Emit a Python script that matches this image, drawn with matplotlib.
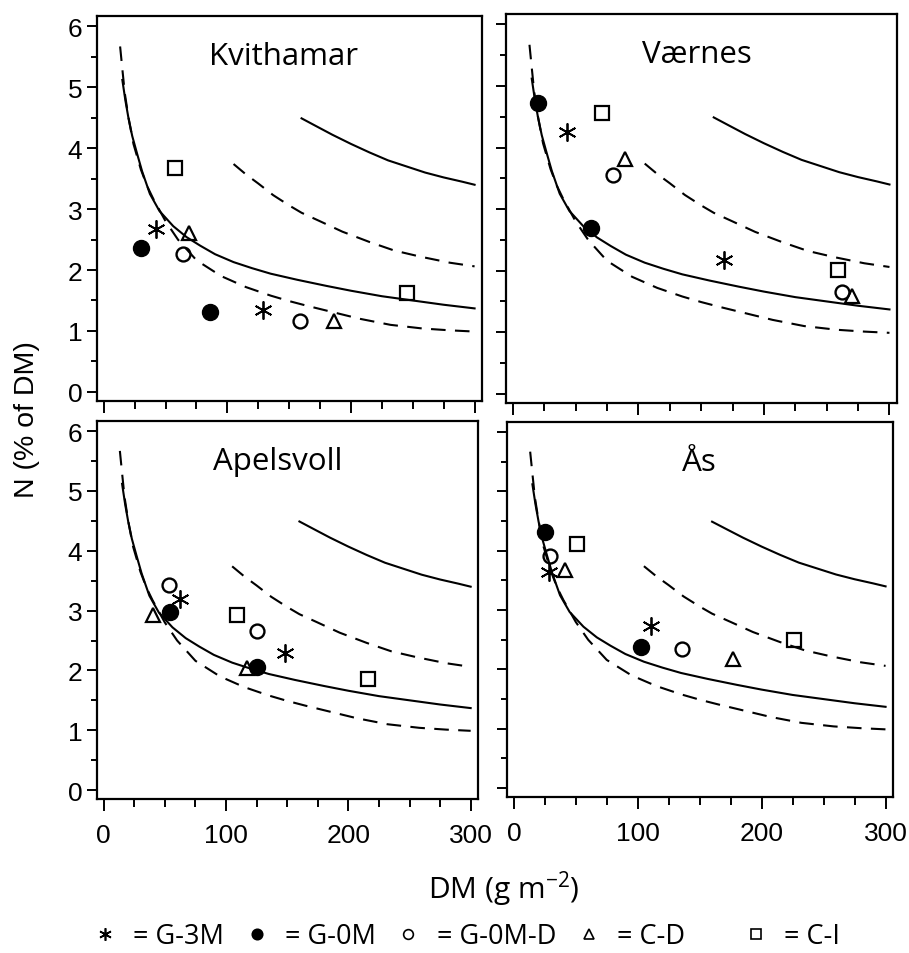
import matplotlib
matplotlib.use("Agg")
import matplotlib.pyplot as plt
from matplotlib.lines import Line2D
from matplotlib.ticker import MultipleLocator

# ---------------- data ----------------
sites = ["Kvithamar", "Værnes", "Apelsvoll", "Ås"]
treatments = ["G-3M", "G-0M", "G-0M-D", "C-D", "C-I"]

# reference curves, DM g m-2 vs N %
lower_solid_dm = [15, 17.5, 20, 23, 26.8, 31, 37.3, 45, 56.2, 67, 78, 90, 105, 120, 135,
                  156.5, 180, 200, 225, 250, 275, 300]
lower_solid_n = [5.12, 4.78, 4.49, 4.20, 3.92, 3.62, 3.25, 2.97, 2.72, 2.54, 2.40, 2.26, 2.13,
                 2.03, 1.94, 1.84, 1.74, 1.66, 1.57, 1.50, 1.43, 1.37]
lower_dash_dm = [13.2, 15, 17, 20, 24, 30, 35, 40, 50, 60, 75, 95, 115, 135, 150, 165, 185,
                 207, 232, 258, 280, 300]
lower_dash_n = [5.67, 5.30, 4.90, 4.50, 4.07, 3.65, 3.38, 3.17, 2.80, 2.50, 2.16, 1.90, 1.72,
                1.58, 1.49, 1.41, 1.31, 1.20, 1.10, 1.04, 1.01, 0.99]
upper_dash_dm = [105, 115, 125, 137, 150, 160, 175, 193, 215, 235, 256, 280, 300]
upper_dash_n = [3.74, 3.57, 3.42, 3.23, 3.06, 2.94, 2.80, 2.63, 2.46, 2.32, 2.22, 2.12, 2.06]
upper_solid_dm = [160, 172, 185, 200, 215, 230, 245, 260, 275, 290, 300]
upper_solid_n = [4.49, 4.36, 4.22, 4.07, 3.93, 3.80, 3.70, 3.60, 3.52, 3.45, 3.40]

# observations per site: treatment -> (DM list, N list)
kvithamar = {
    "G-3M": ([42, 129], [2.68, 1.34]),
    "G-0M": ([30, 86], [2.36, 1.31]),
    "G-0M-D": ([64, 159], [2.27, 1.17]),
    "C-D": ([69, 186], [2.61, 1.17]),
    "C-I": ([58, 245], [3.67, 1.63]),
}
vaernes = {
    "G-3M": ([43, 168], [4.26, 2.18]),
    "G-0M": ([20, 62], [4.72, 2.70]),
    "G-0M-D": ([80, 262], [3.56, 1.65]),
    "C-D": ([89, 270], [3.82, 1.59]),
    "C-I": ([71, 259], [4.56, 2.01]),
}
apelsvoll = {
    "G-3M": ([62, 148], [3.19, 2.29]),
    "G-0M": ([54, 125], [2.98, 2.06]),
    "G-0M-D": ([53, 125], [3.42, 2.66]),
    "C-D": ([40, 117], [2.92, 2.04]),
    "C-I": ([109, 216], [2.92, 1.86]),
}
aas = {
    "G-3M": ([28, 111], [3.64, 2.74]),
    "G-0M": ([25.5, 103], [4.31, 2.38]),
    "G-0M-D": ([29.5, 135.5], [3.91, 2.34]),
    "C-D": ([41, 177], [3.67, 2.18]),
    "C-I": ([51, 226], [4.12, 2.50]),
}
site_data = [kvithamar, vaernes, apelsvoll, aas]

xticks = [0, 100, 200, 300]
yticks = [0, 1, 2, 3, 4, 5, 6]

# ---------------- styles ----------------
mstyle = {
    "G-3M": dict(marker=(6, 2, 0), ms=13, mfc="none", mec="black", mew=1.3),
    "G-0M": dict(marker="o", ms=11.5, mfc="black", mec="black", mew=1.0),
    "G-0M-D": dict(marker="o", ms=10, mfc="none", mec="black", mew=1.7),
    "C-D": dict(marker="^", ms=10.5, mfc="none", mec="black", mew=1.6),
    "C-I": dict(marker="s", ms=10.5, mfc="none", mec="black", mew=1.6),
}

W, H = 909, 954
fig = plt.figure(figsize=(W / 100, H / 100), dpi=100)
fig.patch.set_facecolor("white")

# panel frames in pixels: left, top, right, bottom
frames = [(97, 17, 482, 402), (506, 15, 897, 404), (97, 422, 478, 800), (507, 423, 893, 798)]
title_dx = [-6, -5, -10, -1]  # pixel offset of title centre from panel centre
title_fs = 22.5
tick_font = "Liberation Sans"
title_font = "Open Sans"

for i, (l, t, r, b) in enumerate(frames):
    ax = fig.add_axes([l / W, 1 - b / H, (r - l) / W, (b - t) / H])
    ax.set_xlim(-5.5, 306)
    ax.set_ylim(-0.15, 6.17)
    dkw = dict(color="black", lw=1.5, dashes=(7, 4.5))
    ax.plot(lower_solid_dm, lower_solid_n, color="black", lw=1.5)
    ax.plot(upper_solid_dm, upper_solid_n, color="black", lw=1.5)
    ax.plot(lower_dash_dm, lower_dash_n, **dkw)
    ax.plot(upper_dash_dm, upper_dash_n, **dkw)
    for tr in treatments:
        xs, ys = site_data[i][tr]
        ax.plot(xs, ys, ls="none", **mstyle[tr], zorder=5)
    ax.set_xticks(xticks)
    ax.set_yticks(yticks)
    ax.xaxis.set_minor_locator(MultipleLocator(25))
    ax.yaxis.set_minor_locator(MultipleLocator(0.5))
    ax.tick_params(axis="x", which="major", direction="out", length=8.5, width=1.4, pad=9)
    ax.tick_params(axis="x", which="minor", direction="out", length=5.5, width=1.4)
    ax.tick_params(axis="y", which="major", direction="out", length=7.5, width=1.4, pad=3)
    ax.tick_params(axis="y", which="minor", direction="out", length=4.5, width=1.4)
    for sp in ax.spines.values():
        sp.set_linewidth(1.6)
    if i in (0, 2):
        ax.set_yticklabels([str(v) for v in yticks], fontsize=19, family=tick_font)
    else:
        ax.set_yticklabels([])
    if i in (2, 3):
        ax.set_xticklabels([str(v) for v in xticks], fontsize=19, family=tick_font)
    else:
        ax.set_xticklabels([])
    ax.text(0.5 + title_dx[i] / (r - l), 1 - 48 / (b - t), sites[i], transform=ax.transAxes,
            ha="center", va="baseline", fontsize=title_fs, family=title_font)

fig.text(27 / W, 1 - 420 / H, "N (% of DM)", rotation=90, ha="center", va="center",
         fontsize=20.5, family=tick_font)
fig.text(504 / W, 1 - 900 / H, "DM (g m$^{\\mathregular{-2}}$)", ha="center", va="baseline",
         fontsize=21.5, family=title_font)

# legend
leg_sizes = {"G-3M": 9, "G-0M": 7.5, "G-0M-D": 7, "C-D": 7, "C-I": 7}
handles = []
for tr in treatments:
    st = dict(mstyle[tr])
    st["ms"] = leg_sizes[tr]
    st["mew"] = 1.2
    handles.append(Line2D([], [], ls="none", **st))
labels = ["= " + t for t in treatments]
lkw = dict(frameon=False, handlelength=0.8, handletextpad=0.65, borderpad=0, borderaxespad=0,
           prop={"family": title_font, "size": 19.5}, loc="center left")
fig.legend(handles[:4], labels[:4], ncol=4, columnspacing=0.8,
           bbox_to_anchor=(94 / W, 1 - 937 / H), **lkw)
fig.legend(handles[4:], labels[4:], ncol=1,
           bbox_to_anchor=(745 / W, 1 - 937 / H), **lkw)

fig.savefig("out.png", dpi=100, facecolor="white")
